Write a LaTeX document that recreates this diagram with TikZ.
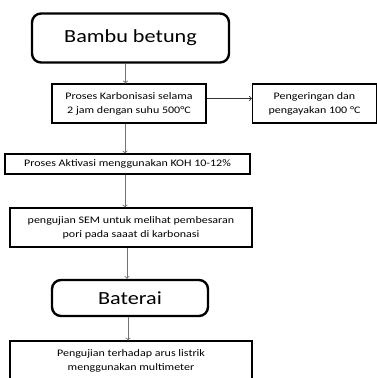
\documentclass[tikz,border=0pt]{standalone}
\usepackage{fontspec}
\setmainfont{Carlito}[FakeStretch=1.2]
\usepackage{tikz}
\usetikzlibrary{arrows,positioning}

\begin{document}
\begin{tikzpicture}[x=1pt,y=-1pt,
    box/.style={rectangle,draw=black,line width=1.2pt,inner sep=2pt,align=center,
                font=\fontsize{10}{14}\selectfont},
    startbox/.style={rectangle,draw=black,line width=2.4pt,rounded corners=9pt,
                     align=center,font=\fontsize{18.5}{22}\selectfont},
    arrow/.style={->,>=to,line width=0.9pt,black!55},
    sidearrow/.style={->,>=to,line width=0.9pt,black!80}]
\clip (0,0) rectangle (377,378);
\fill[white] (0,0) rectangle (377,378);
\node[startbox,minimum width=197pt,minimum height=49pt] (bambu) at (130.5,38) {Bambu betung};
\node[box,minimum width=154pt,minimum height=39pt] (karbon) at (129,103.5) {Proses Karbonisasi selama\\2 jam dengan suhu 500°C};
\node[box,minimum width=124pt,minimum height=39pt] (kering) at (314.5,103.5) {Pengeringan dan\\pengayakan 100 °C};
\node[box,minimum width=245pt,minimum height=20pt] (aktivasi) at (127.5,164) {Proses Aktivasi menggunakan KOH 10-12\%};
\node[box,minimum width=242pt,minimum height=39pt] (sem) at (131,227.5) {pengujian SEM untuk melihat pembesaran\\pori pada saaat di karbonasi};
\node[startbox,minimum width=156pt,minimum height=36pt] (baterai) at (130,298) {Baterai};
\node[box,minimum width=242pt,minimum height=39pt] (uji) at (131,360.5) {Pengujian terhadap arus listrik\\menggunakan multimeter};
\draw[arrow] ([xshift=-5pt]bambu.south) -- ([xshift=-5pt]bambu.south |- karbon.north);
\draw[arrow] ([xshift=-4pt]karbon.south) -- ([xshift=-4pt]karbon.south |- aktivasi.north);
\draw[sidearrow] ([yshift=5pt]karbon.east) -- ([yshift=5pt]kering.west);
\draw[arrow] ([xshift=-2.5pt]aktivasi.south) -- ([xshift=-2.5pt]aktivasi.south |- sem.north);
\draw[arrow] ([xshift=-4pt]sem.south) -- ([xshift=-4pt]sem.south |- baterai.north);
\draw[arrow] ([xshift=-2pt]baterai.south) -- ([xshift=-2pt]baterai.south |- uji.north);
\end{tikzpicture}
\end{document}
